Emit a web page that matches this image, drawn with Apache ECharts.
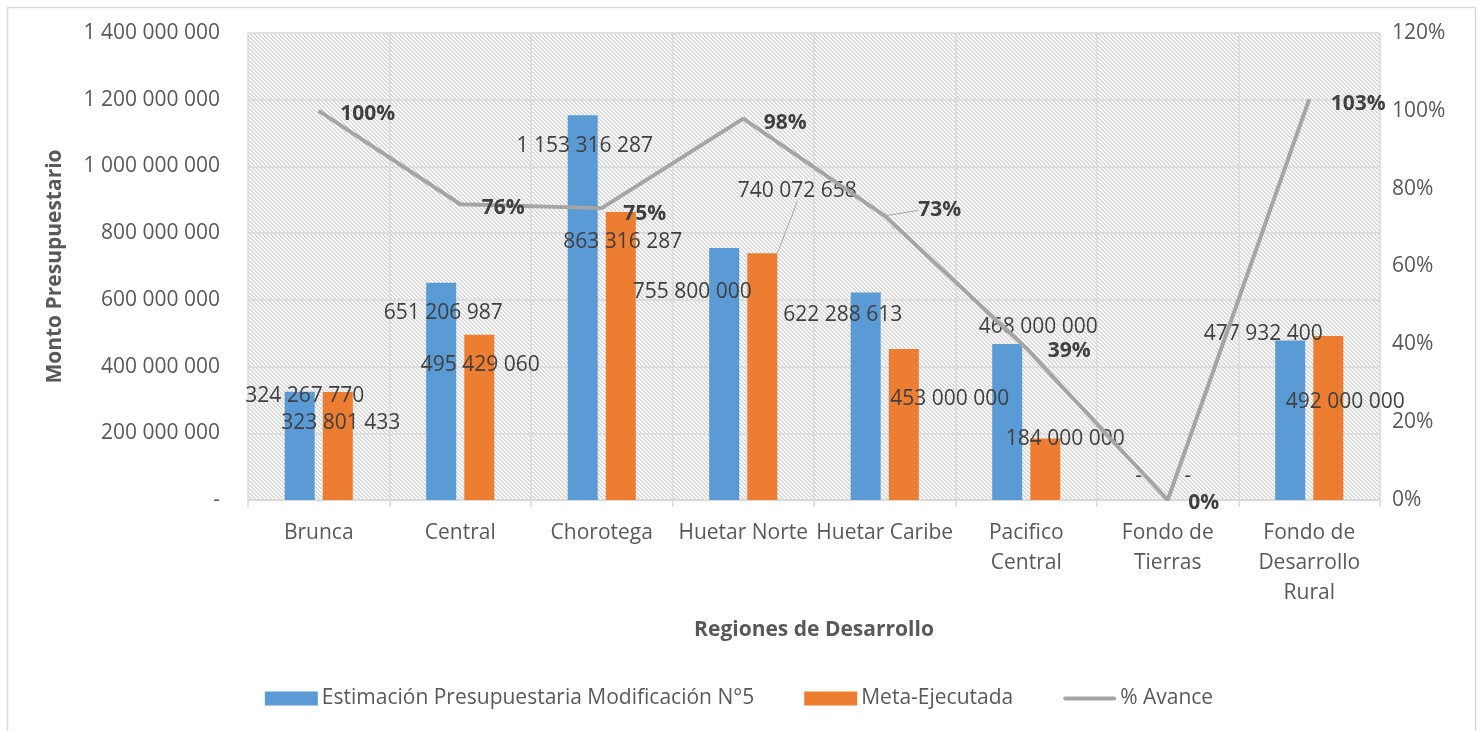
<!DOCTYPE html>
<html>
<head>
<meta charset="utf-8">
<script src="https://cdn.jsdelivr.net/npm/echarts@6/dist/echarts.min.js"></script>
<style>
html,body{margin:0;padding:0;background:#fff;}
#chart{width:1478px;height:731px;}
</style>
</head>
<body>
<div id="chart"></div>
<script>
// ---- data ----
const categories = ['Brunca', 'Central', 'Chorotega', 'Huetar Norte', 'Huetar Caribe', 'Pacifico Central', 'Fondo de Tierras', 'Fondo de Desarrollo Rural'];
const estimacion = [324267770, 651206987, 1153316287, 755800000, 622288613, 468000000, 0, 477932400];
const ejecutada = [323801433, 495429060, 863316287, 740072658, 453000000, 184000000, 0, 492000000];
const avance = [100, 76, 75, 98, 73, 39, 0, 103];
const seriesNames = ['Estimación Presupuestaria Modificación N°5', 'Meta-Ejecutada', '% Avance'];
const axisTitles = { x: 'Regiones de Desarrollo', y: 'Monto Presupuestario' };
const wrappedNames = {
  'Pacifico Central': 'Pacifico\nCentral',
  'Fondo de Tierras': 'Fondo de\nTierras',
  'Fondo de Desarrollo Rural': 'Fondo de\nDesarrollo\nRural'
};

// ---- label placement (layout, not data) ----
const blueOff = [[5,4],[2,30],[2,31],[-32,44],[-23,23],[31,-17],[-10,-24],[-27,-7]];
const orangeOff = [[3,31],[1,30],[2,30],[35,-62],[46,50],[20,0],[1,-24],[17,66]];
const lineOff = [[49,4],[43,4],[43,6],[42,5],[55,-5],[43,3],[36,4],[49,5]];

const FONT = '"Open Sans", "Noto Sans", sans-serif';
const fmt = v => v === 0 ? '-' : String(v).replace(/\B(?=(\d{3})+(?!\d))/g, ' ');

// hatch pattern
const pc = document.createElement('canvas');
pc.width = 8; pc.height = 8;
const pctx = pc.getContext('2d');
pctx.fillStyle = '#ffffff'; pctx.fillRect(0,0,8,8);
pctx.fillStyle = '#d9d9d9';
for (let y = 0; y < 8; y++) for (let x = 0; x < 8; x++) {
  if ((((x - y) % 4) + 4) % 4 < 2) pctx.fillRect(x, y, 1, 1);
}

const chart = echarts.init(document.getElementById('chart'), null, { renderer: 'canvas' });

const barLabel = {
  show: true, position: 'top', distance: 0, verticalAlign: 'middle', align: 'center',
  fontFamily: FONT, fontSize: 21, color: '#404040',
  formatter: p => fmt(p.value)
};

chart.setOption({
  backgroundColor: '#ffffff',
  animation: false,
  textStyle: { fontFamily: FONT },
  graphic: [{
    type: 'rect', left: 5, top: 5, shape: { width: 1468, height: 760 },
    style: { fill: 'none', stroke: '#d9d9d9', lineWidth: 1.5 }, silent: true
  }],
  grid: {
    left: 248, right: 98, top: 33, bottom: 231,
    show: true, backgroundColor: { image: pc, repeat: 'repeat' }, borderWidth: 0
  },
  legend: {
    bottom: 17, left: 'center', itemWidth: 53, itemHeight: 14, itemGap: 50,
    textStyle: { fontFamily: FONT, fontSize: 21, color: '#595959', padding: [0,0,0,-1] },
    data: [
      { name: seriesNames[0], icon: 'rect' },
      { name: seriesNames[1], icon: 'rect' },
      { name: seriesNames[2], icon: 'path://M2,0.001h0.001v0.001h-0.001z M2,5 h49 a2,2 0 0 1 0,4 h-49 a2,2 0 0 1 0,-4 z M2,13.999h0.001v0.001h-0.001z' }
    ]
  },
  xAxis: {
    type: 'category', data: categories,
    name: axisTitles.x, nameLocation: 'middle', nameGap: 120,
    nameTextStyle: { fontFamily: FONT, fontSize: 21, fontWeight: 'bold', color: '#595959' },
    axisLine: { show: true, lineStyle: { color: '#d9d9d9', width: 1.5 } },
    axisTick: { show: true, length: 7, lineStyle: { color: '#d9d9d9', width: 1.5 } },
    splitLine: { show: true, lineStyle: { color: '#d9d9d9', width: 1.5 } },
    axisLabel: {
      interval: 0, margin: 18, fontFamily: FONT, fontSize: 21, color: '#595959', lineHeight: 30,
      formatter: v => wrappedNames[v] || v
    }
  },
  yAxis: [{
    type: 'value', min: 0, max: 1400000000, interval: 200000000,
    name: axisTitles.y, nameLocation: 'middle', nameGap: 182, nameRotate: 90,
    nameTextStyle: { fontFamily: FONT, fontSize: 21, fontWeight: 'bold', color: '#595959' },
    axisLine: { show: false }, axisTick: { show: false },
    splitLine: { show: true, lineStyle: { color: '#d9d9d9', width: 1.5 } },
    axisLabel: { margin: 28, fontFamily: FONT, fontSize: 21, color: '#595959', formatter: v => fmt(v), padding: [4,0,0,0] }
  }, {
    type: 'value', min: 0, max: 120, interval: 20, position: 'right',
    axisLine: { show: false }, axisTick: { show: false }, splitLine: { show: false },
    axisLabel: { margin: 12, fontFamily: FONT, fontSize: 21, color: '#595959', formatter: '{value}%', padding: [4,0,0,0] }
  }],
  series: [{
    name: seriesNames[0], type: 'bar', data: estimacion,
    barWidth: 30, barGap: '27%',
    itemStyle: { color: '#5b9bd5' },
    label: barLabel,
    labelLayout: p => ({ dx: blueOff[p.dataIndex][0], dy: blueOff[p.dataIndex][1] })
  }, {
    name: seriesNames[1], type: 'bar',
    data: ejecutada.map((v, i) => i === 3 ? { value: v, labelLine: { show: true, lineStyle: { color: '#a6a6a6', width: 1 } } } : v),
    barWidth: 30,
    itemStyle: { color: '#ed7d31' },
    label: barLabel,
    labelLine: { show: false },
    labelLayout: p => ({ dx: orangeOff[p.dataIndex][0], dy: orangeOff[p.dataIndex][1] })
  }, {
    name: seriesNames[2], type: 'line', yAxisIndex: 1, z: 5,
    data: avance.map((v, i) => i === 4 ? { value: v, labelLine: { show: true, lineStyle: { color: '#a6a6a6', width: 1 } } } : v),
    symbol: 'circle', symbolSize: 1, showSymbol: true,
    itemStyle: { color: '#a5a5a5' },
    lineStyle: { color: '#a5a5a5', width: 4 },
    label: {
      show: true, position: 'top', distance: 0, verticalAlign: 'middle', align: 'center',
      fontFamily: FONT, fontSize: 21, fontWeight: 'bold', color: '#404040',
      formatter: p => p.value + '%'
    },
    labelLine: { show: false },
    labelLayout: p => ({ dx: lineOff[p.dataIndex][0], dy: lineOff[p.dataIndex][1] })
  }]
});
</script>
</body>
</html>
